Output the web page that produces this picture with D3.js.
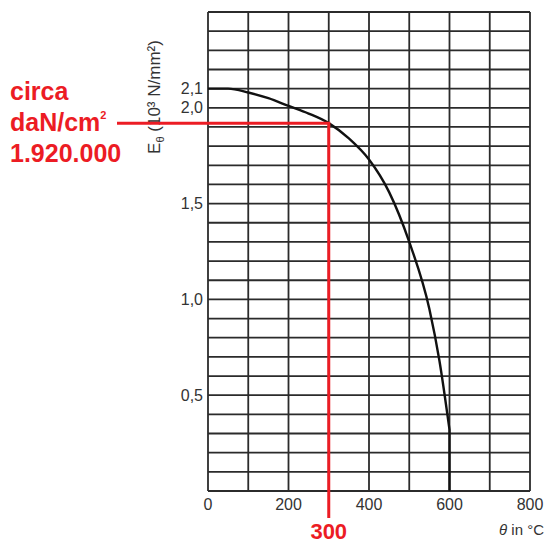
<!DOCTYPE html>
<html>
<head>
<meta charset="utf-8">
<script src="https://cdn.jsdelivr.net/npm/d3@7"></script>
<style>
  html, body { margin: 0; padding: 0; background: #fff; }
  svg { display: block; }
</style>
</head>
<body>
<div id="chart"></div>
<script>
// curve: temperature (°C) -> E_theta (10^3 N/mm^2)
const tempC   = [0, 50, 100, 150, 200, 250, 300, 350, 400, 450, 500, 550, 575, 600, 600]
const modulus = [2.10, 2.10, 2.08, 2.05, 2.01, 1.97, 1.92, 1.84, 1.73, 1.56, 1.30, 0.95, 0.68, 0.32, 0]

const xTicks = [0, 200, 400, 600, 800]
const yTicks = [0.5, 1.0, 1.5, 2.0, 2.1]

// red reading at 300 °C
const markT = 300
const markE = 1.92
const markLines = ["circa", "daN/cm", "1.920.000"]

const width = 546, height = 544
const red = "#ec1c24"
const ink = "#2b2b2b"
const font = "Liberation Sans, Arial, sans-serif"

const svg = d3.select("#chart")
  .append("svg")
  .attr("width", width)
  .attr("height", height)

const x = d3.scaleLinear().domain([0, 800]).range([208, 530])
const y = d3.scaleLinear().domain([0, 2.5]).range([491, 12])

// grid: every 100 °C and every 0.1
const grid = svg.append("g").attr("class", "grid")
grid.selectAll("line.v")
  .data(d3.range(0, 801, 100))
  .enter()
    .append("line")
    .attr("class", "v")
    .attr("x1", d => x(d)).attr("x2", d => x(d))
    .attr("y1", y(0)).attr("y2", y(2.5))
    .attr("stroke", ink)
    .attr("stroke-width", 1.8)
grid.selectAll("line.h")
  .data(d3.range(0, 26).map(i => i / 10))
  .enter()
    .append("line")
    .attr("class", "h")
    .attr("x1", x(0)).attr("x2", x(800))
    .attr("y1", d => y(d)).attr("y2", d => y(d))
    .attr("stroke", ink)
    .attr("stroke-width", 1.8)

// tick labels
const fmt = d => d3.format(".1f")(d).replace(".", ",")
svg.append("g")
  .selectAll("text")
  .data(yTicks)
  .enter()
    .append("text")
    .attr("x", x(0) - 5)
    .attr("y", d => y(d))
    .attr("dy", "0.35em")
    .attr("text-anchor", "end")
    .attr("font-family", font)
    .attr("font-size", 16)
    .attr("fill", "#333")
    .text(fmt)

svg.append("g")
  .selectAll("text")
  .data(xTicks)
  .enter()
    .append("text")
    .attr("x", d => x(d))
    .attr("y", 510)
    .attr("text-anchor", "middle")
    .attr("font-family", font)
    .attr("font-size", 16)
    .attr("fill", "#333")
    .text(d => d)

// axis titles
const yTitle = svg.append("text")
  .attr("transform", "translate(160,97) rotate(-90)")
  .attr("text-anchor", "middle")
  .attr("font-family", font)
  .attr("font-size", 17)
  .attr("fill", "#333")
yTitle.append("tspan").text("E")
yTitle.append("tspan").attr("font-size", 11).attr("dy", 4).text("θ")
yTitle.append("tspan").attr("dy", -4).text(" (10³ N/mm²)")

const xTitle = svg.append("text")
  .attr("x", 544)
  .attr("y", 535)
  .attr("text-anchor", "end")
  .attr("font-family", font)
  .attr("font-size", 15)
  .attr("fill", "#333")
xTitle.append("tspan").attr("font-style", "italic").text("θ")
xTitle.append("tspan").text(" in °C")

// the curve: smooth part while E > 0, then the straight drop at 600 °C
const pts = tempC.map((t, i) => [t, modulus[i]])
const smooth = pts.filter(d => d[1] > 0)
const drop = pts[pts.length - 1]
const curvePath = d3.line()
  .x(d => x(d[0]))
  .y(d => y(d[1]))
  .curve(d3.curveMonotoneX)(smooth)
svg.append("path")
  .attr("d", curvePath + `L${x(drop[0])},${y(drop[1])}`)
  .attr("fill", "none")
  .attr("stroke", "#111")
  .attr("stroke-width", 2.4)

// red reading lines
svg.append("line")
  .attr("x1", 117).attr("x2", x(markT) + 1.5)
  .attr("y1", y(markE)).attr("y2", y(markE))
  .attr("stroke", red).attr("stroke-width", 3)
svg.append("line")
  .attr("x1", x(markT)).attr("x2", x(markT))
  .attr("y1", y(markE)).attr("y2", 518)
  .attr("stroke", red).attr("stroke-width", 3)

svg.append("text")
  .attr("x", x(markT))
  .attr("y", 539)
  .attr("text-anchor", "middle")
  .attr("font-family", font)
  .attr("font-weight", "bold")
  .attr("font-size", 22)
  .attr("fill", red)
  .text(markT)

const notes = svg.append("g")
  .selectAll("text")
  .data(markLines)
  .enter()
    .append("text")
    .attr("x", 10)
    .attr("y", (d, i) => [100, 131, 162][i])
    .attr("font-family", font)
    .attr("font-weight", "bold")
    .attr("font-size", 25)
    .attr("fill", red)
    .text(d => d)
// small superscript 2 on the unit line
notes.filter((d, i) => i === 1)
  .append("tspan")
  .attr("font-size", 11)
  .attr("dy", -12)
  .text("2")
</script>
</body>
</html>
